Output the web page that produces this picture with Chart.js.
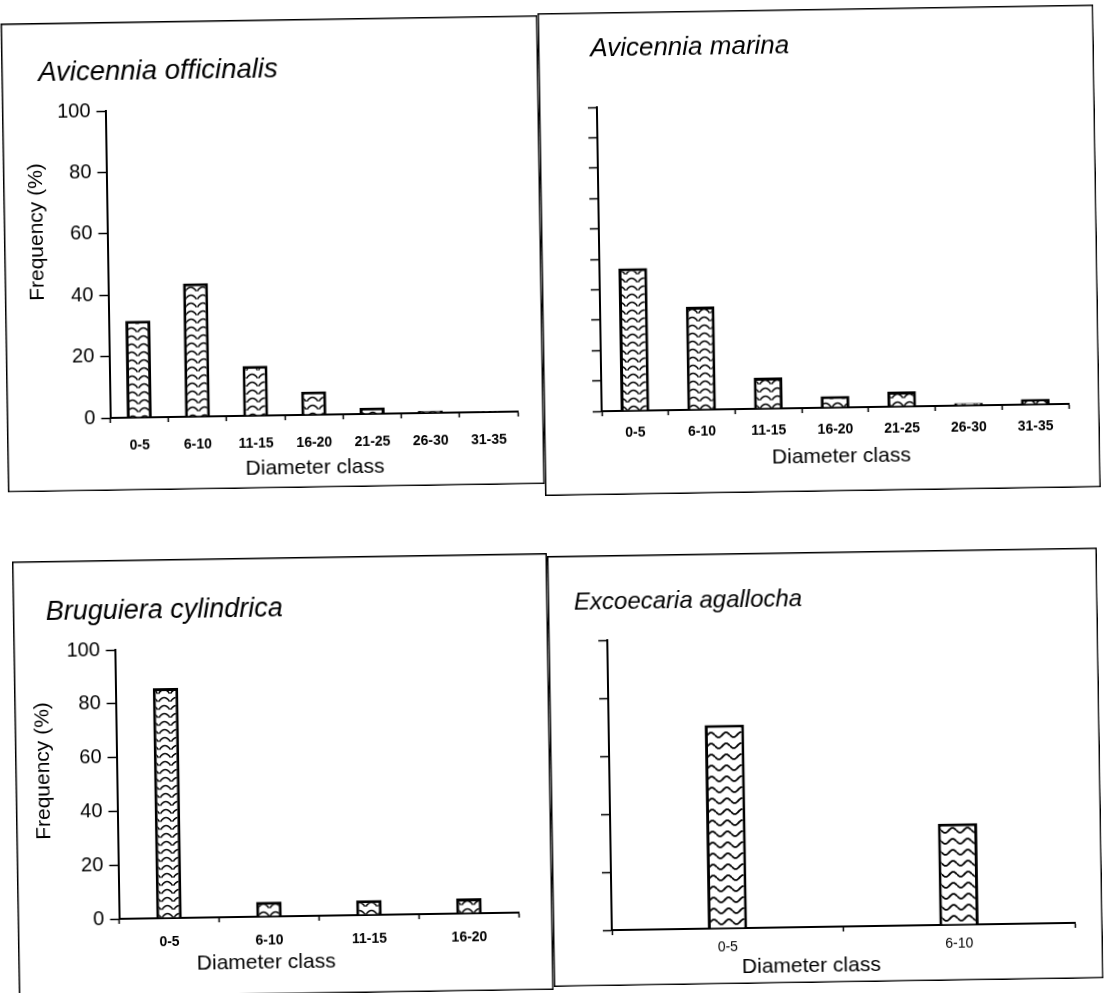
<!DOCTYPE html>
<html>
<head>
<meta charset="utf-8">
<title>Diameter class distribution of mangrove species</title>
<script src="https://cdn.jsdelivr.net/npm/chart.js@4.4.1/dist/chart.umd.min.js"></script>
<style>
  html, body { margin: 0; padding: 0; background: #fff; }
  body { width: 1106px; height: 993px; overflow: hidden; position: relative; }
  #stage {
    position: absolute; left: 0; top: 0; width: 1106px; height: 993px;
    transform: rotate(-0.9deg); transform-origin: 553px 496px;
  }
  #stage canvas { position: absolute; }
</style>
</head>
<body>
<div id="stage"></div>
<script>
const FONT = '"Liberation Sans", Arial, Helvetica, sans-serif';

// Diameter classes (cm)
const classesSeven = ['0-5', '6-10', '11-15', '16-20', '21-25', '26-30', '31-35'];
const classesFour  = ['0-5', '6-10', '11-15', '16-20'];
const classesTwo   = ['0-5', '6-10'];

// Frequency (%) per diameter class
const officinalisFreq = [31.5, 43.4, 16.2, 7.6, 2.0, 0.7, 0.3];
const marinaFreq      = [46.9, 33.9, 10.2, 3.8, 4.9, 0.8, 1.8];
const cylindricaFreq  = [85.5, 5.5, 5.5, 5.6];
const agallochaFreq   = [70.2, 34.9];

// Species names
const speciesNames = ['Avicennia officinalis', 'Avicennia marina', 'Bruguiera cylindrica', 'Excoecaria agallocha'];

// Fill textures for the bars
function arcPattern() {
  const c = document.createElement('canvas');
  c.width = 12; c.height = 8;
  const g = c.getContext('2d');
  g.fillStyle = '#fff'; g.fillRect(0, 0, 12, 8);
  g.strokeStyle = '#000'; g.lineWidth = 1.5;
  g.beginPath(); g.moveTo(0.5, 6.5); g.quadraticCurveTo(6, -1.5, 11.5, 6.5); g.stroke();
  return g.createPattern(c, 'repeat');
}
function wavePattern() {
  const c = document.createElement('canvas');
  c.width = 15; c.height = 11;
  const g = c.getContext('2d');
  g.fillStyle = '#fff'; g.fillRect(0, 0, 15, 11);
  g.strokeStyle = '#000'; g.lineWidth = 1.8;
  g.beginPath();
  for (let x = 0; x <= 15; x += 0.5) {
    const y = 5.5 + 2.4 * Math.sin(2 * Math.PI * x / 15);
    if (x === 0) g.moveTo(x, y); else g.lineTo(x, y);
  }
  g.stroke();
  return g.createPattern(c, 'repeat');
}

// Frame, species name and axis titles for each panel
const panelText = {
  id: 'panelText',
  afterDraw(chart, args, o) {
    const ctx = chart.ctx;
    ctx.save();
    ctx.strokeStyle = '#000';
    ctx.lineWidth = 1.5;
    ctx.strokeRect(0.75, 0.75, chart.width - 1.5, chart.height - 1.5);
    ctx.fillStyle = '#000';
    ctx.font = 'italic ' + o.titleSize + 'px ' + FONT;
    ctx.textAlign = 'left';
    ctx.textBaseline = 'alphabetic';
    ctx.fillText(o.species, o.titleX, o.titleY);
    ctx.font = '21px ' + FONT;
    ctx.textAlign = 'center';
    ctx.textBaseline = 'middle';
    ctx.fillText('Diameter class', o.xTitleX, o.xTitleY);
    if (o.yTitle) {
      ctx.font = '21px ' + FONT;
      ctx.translate(o.yTitleX, o.yTitleY);
      ctx.rotate(-Math.PI / 2);
      ctx.fillText(o.yTitle, 0, 0);
    }
    ctx.restore();
  }
};

const stage = document.getElementById('stage');

function makePanel(cfg) {
  const b = cfg.box, a = cfg.area;
  const w = b.r - b.l, h = b.b - b.t;
  const cv = document.createElement('canvas');
  cv.width = w; cv.height = h;
  cv.style.left = b.l + 'px'; cv.style.top = b.t + 'px';
  cv.style.width = w + 'px'; cv.style.height = h + 'px';
  stage.appendChild(cv);
  const yW = cfg.yAxisWidth, xH = 45;
  new Chart(cv, {
    type: 'bar',
    data: {
      labels: cfg.labels,
      datasets: [{
        data: cfg.values,
        backgroundColor: cfg.pattern,
        borderColor: '#000',
        borderWidth: 3,
        barPercentage: cfg.barPct,
        categoryPercentage: 1
      }]
    },
    options: {
      responsive: false,
      animation: false,
      devicePixelRatio: 1,
      layout: {
        padding: {
          left: a.L - b.l - yW,
          right: b.r - a.R,
          top: a.T - b.t,
          bottom: b.b - a.B - xH
        }
      },
      plugins: {
        legend: { display: false },
        tooltip: { enabled: false },
        title: { display: false },
        panelText: {
          species: cfg.species, titleSize: cfg.titleSize,
          titleX: cfg.title[0] - b.l, titleY: cfg.title[1] - b.t,
          xTitleX: cfg.xTitle[0] - b.l, xTitleY: cfg.xTitle[1] - b.t,
          yTitle: cfg.yTitle ? 'Frequency (%)' : null,
          yTitleX: cfg.yTitle ? cfg.yTitle[0] - b.l : 0,
          yTitleY: cfg.yTitle ? cfg.yTitle[1] - b.t : 0
        }
      },
      scales: {
        x: {
          grid: { display: true, drawOnChartArea: false, drawTicks: true, tickLength: 5, tickWidth: 1.5, tickColor: '#000', offset: true },
          border: { display: true, color: '#000', width: 2 },
          ticks: { color: '#000', font: { family: FONT, size: 14, weight: cfg.xBold ? 'bold' : 'normal' }, padding: cfg.xPad, maxRotation: 0, autoSkip: false },
          afterFit(s) { s.height = xH; }
        },
        y: {
          min: 0, max: 100,
          grid: { display: true, drawOnChartArea: false, drawTicks: true, tickLength: 9, tickWidth: 1.5, tickColor: '#000' },
          border: { display: true, color: '#000', width: 2 },
          ticks: { display: cfg.yLabels, stepSize: cfg.yStep, color: '#000', font: { family: FONT, size: 20 }, padding: 6 },
          afterFit(s) { s.width = yW; }
        }
      }
    },
    plugins: [panelText]
  });
}

makePanel({
  species: speciesNames[0], titleSize: 27.5, labels: classesSeven, values: officinalisFreq, pattern: arcPattern(),
  box: { l: 8, t: 15, r: 545, b: 484 }, area: { L: 111.5, R: 519, T: 104, B: 411 },
  yAxisWidth: 60, yLabels: true, yStep: 20, barPct: 0.43, xPad: 15, xBold: true,
  title: [45, 73], xTitle: [315.5, 464], yTitle: [41, 224]
});
makePanel({
  species: speciesNames[1], titleSize: 26, labels: classesSeven, values: marinaFreq, pattern: arcPattern(),
  box: { l: 545, t: 13, r: 1101, b: 496 }, area: { L: 603, R: 1070, T: 108, B: 412 },
  yAxisWidth: 40, yLabels: false, yStep: 10, barPct: 0.43, xPad: 9, xBold: true,
  title: [597.3, 56.5], xTitle: [842, 461], yTitle: null
});
makePanel({
  species: speciesNames[2], titleSize: 27, labels: classesFour, values: cylindricaFreq, pattern: arcPattern(),
  box: { l: 11, t: 553, r: 546, b: 990 }, area: { L: 112.5, R: 512.5, T: 643, B: 912 },
  yAxisWidth: 60, yLabels: true, yStep: 20, barPct: 0.255, xPad: 11, xBold: true,
  title: [44, 612], xTitle: [259, 958], yTitle: [39.6, 763]
});
makePanel({
  species: speciesNames[3], titleSize: 24, labels: classesTwo, values: agallochaFreq, pattern: wavePattern(),
  box: { l: 546, t: 556, r: 1096, b: 987 }, area: { L: 605, R: 1068, T: 641, B: 931 },
  yAxisWidth: 40, yLabels: false, yStep: 20, barPct: 0.17, xPad: 6, xBold: false,
  title: [572.3, 610], xTitle: [804, 970], yTitle: null
});
</script>
</body>
</html>
